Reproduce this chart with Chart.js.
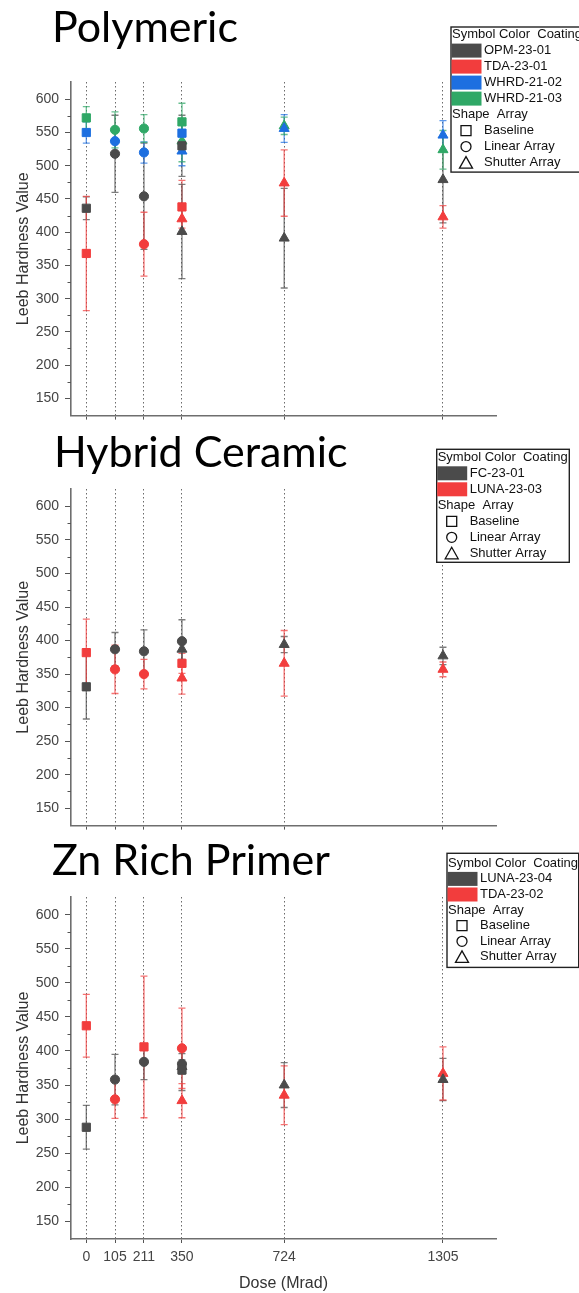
<!DOCTYPE html>
<html>
<head>
<meta charset="utf-8">
<script src="https://cdn.jsdelivr.net/npm/chart.js@4.4.1/dist/chart.umd.min.js"></script>
<style>
  html, body { margin: 0; padding: 0; background: #fff; }
  #wrap { position: relative; width: 579px; height: 1293px; }
  canvas { position: absolute; left: 0; }
</style>
</head>
<body>
<div id="wrap">
  <canvas id="polyChart" width="579" height="430" style="top:0px"></canvas>
  <canvas id="hybridChart" width="579" height="410" style="top:430px"></canvas>
  <canvas id="znChart" width="579" height="453" style="top:840px"></canvas>
</div>
<script>
// dose steps (Mrad) and hardness ticks
const doses = [0, 105, 211, 350, 724, 1305];
const hardnessTicks = [150, 200, 250, 300, 350, 400, 450, 500, 550, 600];
const hardnessMinor = [175, 225, 275, 325, 375, 425, 475, 525, 575];
const shapeNames = ['Baseline', 'Linear Array', 'Shutter Array'];

// points are [dose, mean hardness, error], one list per coating

// Polymeric
const polyCoatings = ['OPM-23-01', 'TDA-23-01', 'WHRD-21-02', 'WHRD-21-03'];
const polyBaseline = [
  [[0, 436, 17], [350, 530, 46]],
  [[0, 368, 86], [350, 438, 40]],
  [[0, 550, 16], [350, 549, 18]],
  [[0, 572, 17], [350, 566, 28]]
];
const polyLinear = [
  [[105, 518, 58], [211, 454, 80]],
  [[211, 382, 48]],
  [[105, 537, 18], [211, 520, 16]],
  [[105, 554, 27], [211, 556, 21]]
];
const polyShutter = [
  [[350, 401, 71], [724, 391, 75], [1305, 479, 65]],
  [[350, 420, 14], [724, 474, 50], [1305, 423, 17]],
  [[350, 522, 22], [724, 556, 21], [1305, 546, 22]],
  [[350, 537, 31], [724, 560, 13], [1305, 524, 29]]
];

// Hybrid Ceramic
const hybridCoatings = ['FC-23-01', 'LUNA-23-03'];
const hybridBaseline = [
  [[0, 331, 48]],
  [[0, 382, 50], [350, 366, 15]]
];
const hybridLinear = [
  [[105, 387, 25], [211, 384, 32], [350, 399, 32]],
  [[105, 357, 36], [211, 350, 22]]
];
const hybridShutter = [
  [[350, 387, 15], [724, 394, 12], [1305, 377, 13]],
  [[350, 344, 24], [724, 366, 49], [1305, 357, 11]]
];

// Zn Rich Primer
const znCoatings = ['LUNA-23-04', 'TDA-23-02'];
const znBaseline = [
  [[0, 288, 32], [350, 372, 30]],
  [[0, 437, 46], [211, 406, 104]]
];
const znLinear = [
  [[105, 358, 37], [211, 384, 26], [350, 381, 15]],
  [[105, 329, 28], [350, 404, 59]]
];
const znShutter = [
  [[350, 377, 10], [724, 350, 33], [1305, 358, 31]],
  [[350, 327, 25], [724, 335, 43], [1305, 367, 39]]
];

const fourColors = ['#4b4b4b', '#f23d3d', '#1d6fe0', '#2fa866'];
const twoColors = ['#4b4b4b', '#f23d3d'];
const pointStyles = ['rect', 'circle', 'triangle'];
const pointRadii = [5.8, 4.6, 5.8];
const axisColor = '#6e6e6e';

function withAlpha(hex, a) {
  const n = parseInt(hex.slice(1), 16);
  return `rgba(${n >> 16},${(n >> 8) & 255},${n & 255},${a})`;
}

function makeDatasets(coatings, colors, groups) {
  const sets = [];
  groups.forEach((group, s) => {
    group.forEach((pts, c) => {
      if (!pts.length) return;
      sets.push({
        label: coatings[c] + ' ' + shapeNames[s],
        data: pts.map(p => ({ x: p[0], y: p[1] })),
        errors: pts.map(p => p[2]),
        errorColor: withAlpha(colors[c], 0.72),
        pointStyle: pointStyles[s],
        pointRadius: pointRadii[s],
        backgroundColor: colors[c],
        borderColor: colors[c],
        borderWidth: 1
      });
    });
  });
  return sets;
}

// vertical error bars with caps, drawn under the markers
const errorBars = {
  id: 'errorBars',
  beforeDatasetsDraw(chart) {
    const { ctx, scales: { x, y } } = chart;
    ctx.save();
    ctx.lineWidth = 1.3;
    chart.data.datasets.forEach(ds => {
      ctx.strokeStyle = ds.errorColor;
      ds.data.forEach((p, j) => {
        const e = ds.errors[j];
        const px = x.getPixelForValue(p.x);
        const top = y.getPixelForValue(p.y + e);
        const bot = y.getPixelForValue(p.y - e);
        ctx.beginPath();
        ctx.moveTo(px, top); ctx.lineTo(px, bot);
        ctx.moveTo(px - 3.5, top); ctx.lineTo(px + 3.5, top);
        ctx.moveTo(px - 3.5, bot); ctx.lineTo(px + 3.5, bot);
        ctx.stroke();
      });
    });
    ctx.restore();
  }
};

// panel title, minor y ticks and the symbol/colour key box
const panelDecor = {
  id: 'panelDecor',
  afterDraw(chart, args, opts) {
    const { ctx, chartArea } = chart;
    const y = chart.scales.y;
    ctx.save();

    ctx.fillStyle = '#000';
    ctx.font = '43px Lato';
    ctx.textBaseline = 'alphabetic';
    ctx.fillText(opts.title, opts.titleX, opts.titleY);

    ctx.strokeStyle = '#555';
    ctx.lineWidth = 1;
    hardnessMinor.forEach(v => {
      const py = Math.round(y.getPixelForValue(v)) + 0.5;
      ctx.beginPath();
      ctx.moveTo(chartArea.left - 3.5, py);
      ctx.lineTo(chartArea.left, py);
      ctx.stroke();
    });

    const L = opts.key;
    const rows = L.coatings.length + 5;
    const h = L.head + (rows - 1) * L.step + L.tail;
    ctx.fillStyle = '#fff';
    ctx.fillRect(L.x, L.y, L.w, h);
    ctx.strokeStyle = '#222';
    ctx.lineWidth = 1.4;
    ctx.strokeRect(L.x, L.y, L.w, h);

    ctx.font = '13px "Liberation Sans", Arial';
    ctx.textBaseline = 'middle';
    ctx.fillStyle = '#111';
    let ry = L.y + L.head;
    ctx.fillText('Symbol Color  Coating', L.x + 1, ry);
    L.coatings.forEach((name, i) => {
      ry += L.step;
      ctx.fillStyle = L.colors[i];
      ctx.fillRect(L.x + 0.5, ry - 7, 30, 14);
      ctx.fillStyle = '#111';
      ctx.fillText(name, L.x + 33, ry);
    });
    ry += L.step;
    ctx.fillText('Shape  Array', L.x + 1, ry);
    const cx = L.x + 15;
    ctx.strokeStyle = '#111';
    ctx.lineWidth = 1.3;
    shapeNames.forEach((name, s) => {
      ry += L.step;
      ctx.beginPath();
      if (s === 0) {
        ctx.rect(cx - 5, ry - 5, 10, 10);
      } else if (s === 1) {
        ctx.arc(cx, ry, 5, 0, Math.PI * 2);
      } else {
        ctx.moveTo(cx, ry - 6);
        ctx.lineTo(cx + 6.5, ry + 5.5);
        ctx.lineTo(cx - 6.5, ry + 5.5);
        ctx.closePath();
      }
      ctx.stroke();
      ctx.fillText(name, L.x + 33, ry);
    });
    ctx.restore();
  }
};

function buildPanel(id, datasets, cfg) {
  const tickFont = { family: '"Liberation Sans", Arial', size: 14 };
  return new Chart(document.getElementById(id), {
    type: 'scatter',
    data: { datasets: datasets },
    plugins: [errorBars, panelDecor],
    options: {
      responsive: false,
      animation: false,
      layout: { padding: { top: cfg.top, left: 10, right: 83, bottom: cfg.bottom } },
      plugins: {
        legend: { display: false },
        tooltip: { enabled: false },
        panelDecor: cfg.decor
      },
      scales: {
        x: {
          type: 'linear',
          min: -56,
          max: 1499,
          afterBuildTicks: s => { s.ticks = doses.map(v => ({ value: v })); },
          afterFit: s => { s.height = cfg.xHeight; },
          ticks: {
            display: cfg.xLabels,
            color: '#444',
            font: tickFont,
            padding: 6,
            maxRotation: 0,
            autoSkip: false,
            callback: v => String(v)
          },
          grid: {
            color: 'rgba(70,70,70,0.8)',
            lineWidth: 1,
            tickLength: 4,
            tickColor: '#555'
          },
          border: { color: axisColor, width: 1.6, dash: [1.5, 2.5] },
          title: {
            display: cfg.xLabels,
            text: 'Dose (Mrad)',
            color: '#333',
            font: { family: '"Liberation Sans", Arial', size: 16 },
            padding: { top: 0, bottom: 0 }
          }
        },
        y: {
          min: 124,
          max: 626,
          afterBuildTicks: s => { s.ticks = hardnessTicks.map(v => ({ value: v })); },
          afterFit: s => { s.width = 61; },
          ticks: { color: '#444', font: tickFont, padding: 6, callback: v => String(v) },
          grid: { drawOnChartArea: false, tickLength: 6, tickColor: '#555' },
          border: { color: axisColor, width: 1.6 },
          title: {
            display: true,
            text: 'Leeb Hardness Value',
            color: '#333',
            font: { family: '"Liberation Sans", Arial', size: 16 },
            padding: { top: 4, bottom: 4 }
          }
        }
      }
    }
  });
}

const polyGroups = [polyBaseline, polyLinear, polyShutter];
const hybridGroups = [hybridBaseline, hybridLinear, hybridShutter];
const znGroups = [znBaseline, znLinear, znShutter];

buildPanel('polyChart', makeDatasets(polyCoatings, fourColors, polyGroups), {
  top: 82, bottom: 0, xHeight: 5, xLabels: false,
  decor: {
    title: 'Polymeric', titleX: 52, titleY: 42,
    key: { x: 451, y: 27, w: 130, head: 7.6, step: 16, tail: 9.5, coatings: polyCoatings, colors: fourColors }
  }
});

buildPanel('hybridChart', makeDatasets(hybridCoatings, twoColors, hybridGroups), {
  top: 59, bottom: 3, xHeight: 5, xLabels: false,
  decor: {
    title: 'Hybrid Ceramic', titleX: 54, titleY: 37,
    key: { x: 436.7, y: 19.3, w: 132.6, head: 8, step: 16, tail: 9, coatings: hybridCoatings, colors: twoColors }
  }
});

buildPanel('znChart', makeDatasets(znCoatings, twoColors, znGroups), {
  top: 57, bottom: 0, xHeight: 54, xLabels: true,
  decor: {
    title: 'Zn Rich Primer', titleX: 52, titleY: 35,
    key: { x: 447, y: 13.3, w: 131.7, head: 10, step: 15.6, tail: 10.5, coatings: znCoatings, colors: twoColors }
  }
});
</script>
</body>
</html>
